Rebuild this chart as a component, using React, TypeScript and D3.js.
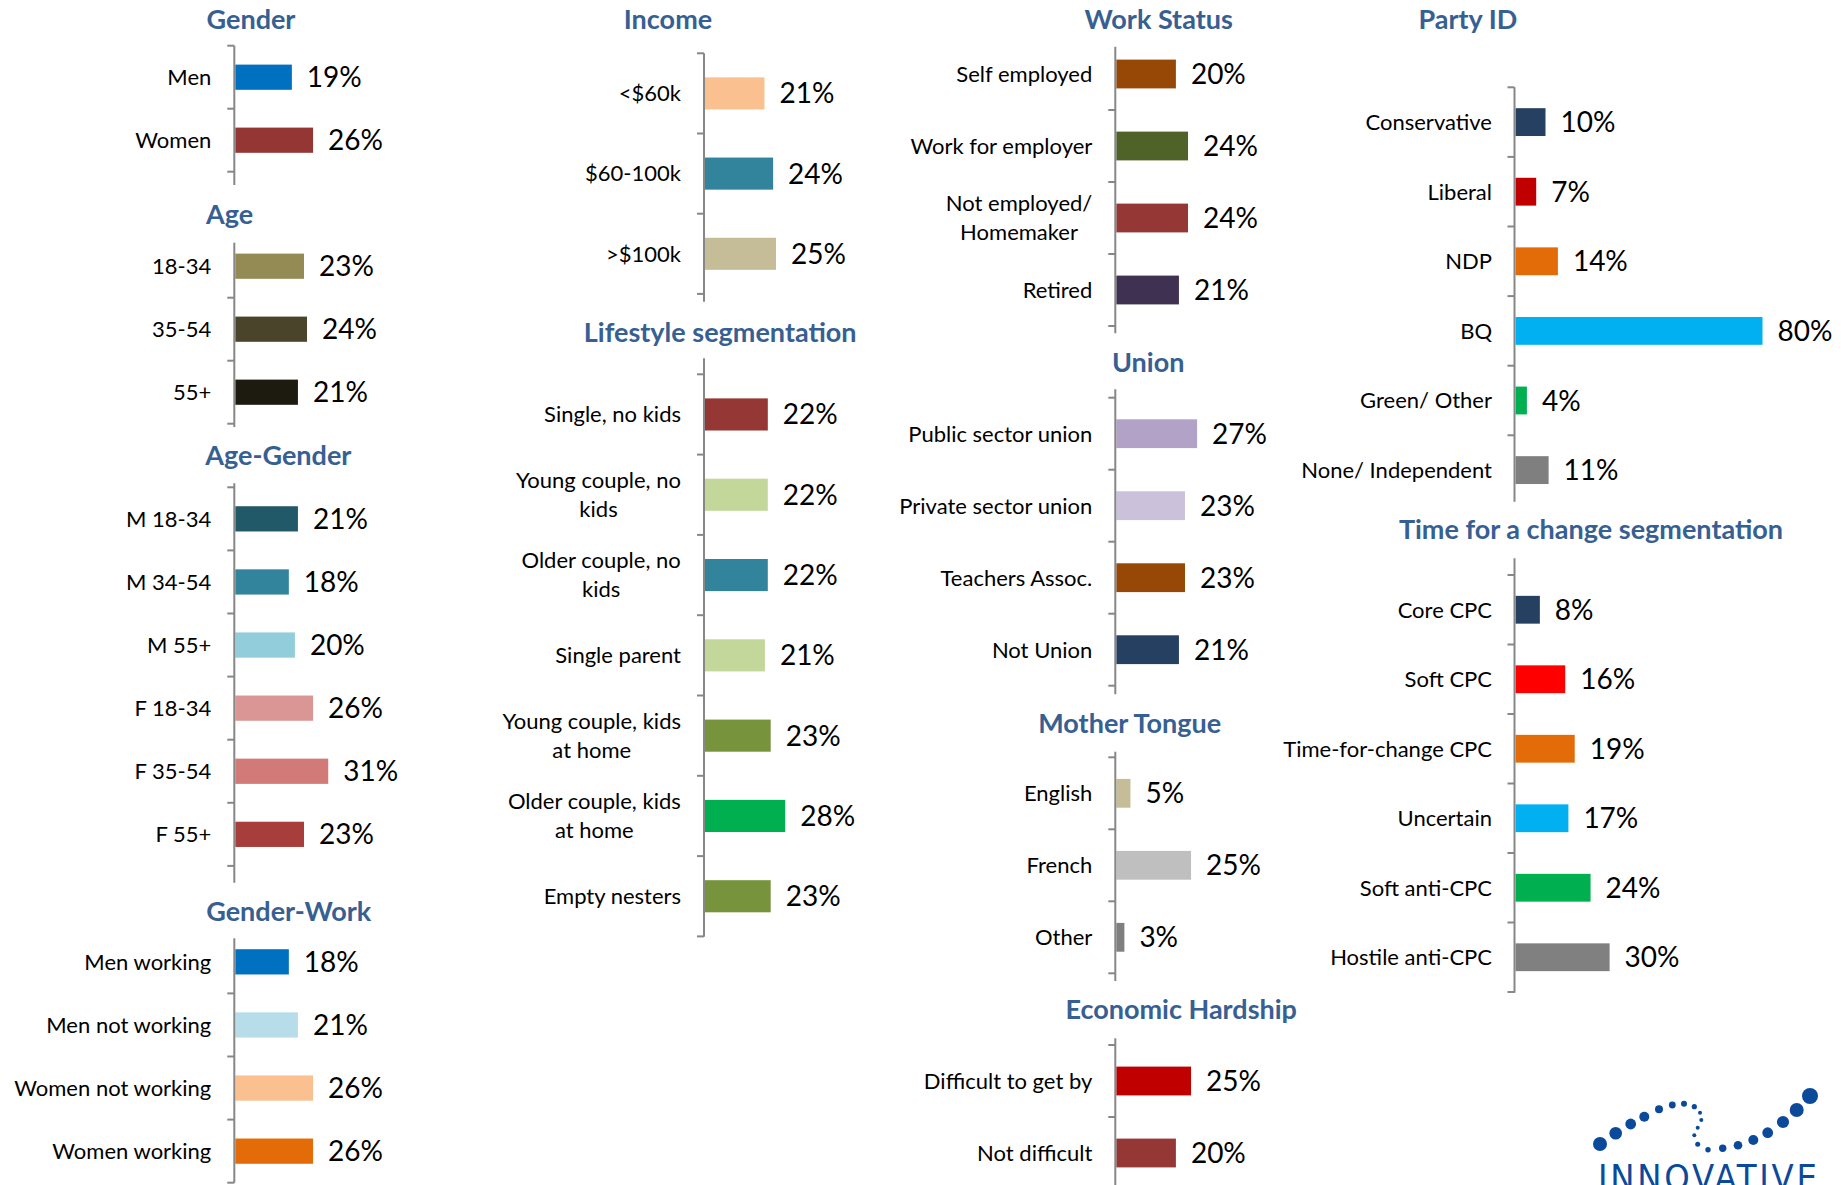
import React from "react";
import * as d3 from "d3";

// ---------- DATA ----------
const genderCats = ["Men", "Women"];
const genderVals = [19, 26];
const genderColors = ["#0070C0", "#943634"];

const ageCats = ["18-34", "35-54", "55+"];
const ageVals = [23, 24, 21];
const ageColors = ["#948A54", "#4A452A", "#1D1B10"];

const ageGenderCats = ["M 18-34", "M 34-54", "M 55+", "F 18-34", "F 35-54", "F 55+"];
const ageGenderVals = [21, 18, 20, 26, 31, 23];
const ageGenderColors = ["#215968", "#31849B", "#92CDDC", "#DA9694", "#D27A78", "#A83E3C"];

const genderWorkCats = ["Men working", "Men not working", "Women not working", "Women working"];
const genderWorkVals = [18, 21, 26, 26];
const genderWorkColors = ["#0070C0", "#B7DEE8", "#FAC090", "#E36C09"];

const incomeCats = ["<$60k", "$60-100k", ">$100k"];
const incomeVals = [21, 24, 25];
const incomeColors = ["#FAC090", "#31849B", "#C4BD97"];

const lifestyleCats = [
  "Single, no kids",
  "Young couple, no\nkids",
  "Older couple, no\nkids",
  "Single parent",
  "Young couple, kids\nat home",
  "Older couple, kids\nat home",
  "Empty nesters",
];
const lifestyleVals = [22, 22, 22, 21, 23, 28, 23];
const lifestyleColors = ["#953735", "#C4D79B", "#31849B", "#C4D79B", "#77933C", "#00B050", "#77933C"];

const workCats = ["Self employed", "Work for employer", "Not employed/\nHomemaker", "Retired"];
const workVals = [20, 24, 24, 21];
const workColors = ["#974806", "#4F6228", "#953735", "#3F3151"];

const unionCats = ["Public sector union", "Private sector union", "Teachers Assoc.", "Not Union"];
const unionVals = [27, 23, 23, 21];
const unionColors = ["#B2A2C7", "#CCC1DA", "#974806", "#254061"];

const tongueCats = ["English", "French", "Other"];
const tongueVals = [5, 25, 3];
const tongueColors = ["#C4BD97", "#BFBFBF", "#7F7F7F"];

const hardshipCats = ["Difficult to get by", "Not difficult"];
const hardshipVals = [25, 20];
const hardshipColors = ["#C00000", "#953735"];

const partyCats = ["Conservative", "Liberal", "NDP", "BQ", "Green/ Other", "None/ Independent"];
const partyVals = [10, 7, 14, 80, 4, 11];
const partyColors = ["#254061", "#C00000", "#E36C09", "#00B0F0", "#00B050", "#7F7F7F"];

const changeCats = ["Core CPC", "Soft CPC", "Time-for-change CPC", "Uncertain", "Soft anti-CPC", "Hostile anti-CPC"];
const changeVals = [8, 16, 19, 17, 24, 30];
const changeColors = ["#254061", "#FF0000", "#E36C09", "#00B0F0", "#00B050", "#808080"];

// ---------- LAYOUT ----------
const FONT = "Lato, 'Open Sans', sans-serif";
const TITLE_COLOR = "#376092";
const AXIS_COLOR = "#878787";
const CAT_SIZE = 22;
const VAL_SIZE = 28;
const TITLE_SIZE = 27;

type Layout = {
  title: string;
  titleX: number;
  titleY: number;
  axisX: number;
  top: number;
  step: number;
  lineTop: number;
  lineBottom: number;
  px: number;
  labelGap: number;
};

const panels: { cfg: Layout; cats: string[]; vals: number[]; colors: string[] }[] = [
  { cfg: { title: "Gender", titleX: 251, titleY: 28.5, axisX: 234.3, top: 45.7, step: 63, lineTop: 45.7, lineBottom: 185, px: 3.03, labelGap: 23 }, cats: genderCats, vals: genderVals, colors: genderColors },
  { cfg: { title: "Age", titleX: 229.5, titleY: 224, axisX: 234.3, top: 234.7, step: 63, lineTop: 242.7, lineBottom: 427, px: 3.03, labelGap: 23 }, cats: ageCats, vals: ageVals, colors: ageColors },
  { cfg: { title: "Age-Gender", titleX: 278.3, titleY: 465, axisX: 234.3, top: 487.3, step: 63.1, lineTop: 483.3, lineBottom: 882.7, px: 3.03, labelGap: 23 }, cats: ageGenderCats, vals: ageGenderVals, colors: ageGenderColors },
  { cfg: { title: "Gender-Work", titleX: 288.7, titleY: 920.7, axisX: 234.3, top: 930.3, step: 63.1, lineTop: 938.3, lineBottom: 1182.7, px: 3.03, labelGap: 23 }, cats: genderWorkCats, vals: genderWorkVals, colors: genderWorkColors },
  { cfg: { title: "Income", titleX: 668, titleY: 28.5, axisX: 704, top: 53.3, step: 80.2, lineTop: 53.3, lineBottom: 301.7, px: 2.88, labelGap: 23 }, cats: incomeCats, vals: incomeVals, colors: incomeColors },
  { cfg: { title: "Lifestyle segmentation", titleX: 720.2, titleY: 341.7, axisX: 704, top: 374.3, step: 80.3, lineTop: 358.3, lineBottom: 936.7, px: 2.9, labelGap: 23 }, cats: lifestyleCats, vals: lifestyleVals, colors: lifestyleColors },
  { cfg: { title: "Work Status", titleX: 1158.7, titleY: 28.5, axisX: 1115.3, top: 38, step: 72, lineTop: 46.7, lineBottom: 333.3, px: 3.03, labelGap: 23 }, cats: workCats, vals: workVals, colors: workColors },
  { cfg: { title: "Union", titleX: 1148.2, titleY: 371.7, axisX: 1115.3, top: 397.7, step: 72, lineTop: 389.3, lineBottom: 694.3, px: 3.03, labelGap: 23 }, cats: unionCats, vals: unionVals, colors: unionColors },
  { cfg: { title: "Mother Tongue", titleX: 1129.7, titleY: 732.7, axisX: 1115.3, top: 757.3, step: 72, lineTop: 751.7, lineBottom: 981, px: 3.03, labelGap: 23 }, cats: tongueCats, vals: tongueVals, colors: tongueColors },
  { cfg: { title: "Economic Hardship", titleX: 1181.2, titleY: 1019.3, axisX: 1115.3, top: 1045, step: 72, lineTop: 1038.3, lineBottom: 1185, px: 3.03, labelGap: 23 }, cats: hardshipCats, vals: hardshipVals, colors: hardshipColors },
  { cfg: { title: "Party ID", titleX: 1467.8, titleY: 29.3, axisX: 1514.5, top: 87.3, step: 69.6, lineTop: 87.3, lineBottom: 501.7, px: 3.1, labelGap: 22.5 }, cats: partyCats, vals: partyVals, colors: partyColors },
  { cfg: { title: "Time for a change segmentation", titleX: 1591, titleY: 539.3, axisX: 1514.5, top: 575, step: 69.5, lineTop: 558.3, lineBottom: 992.7, px: 3.17, labelGap: 22.5 }, cats: changeCats, vals: changeVals, colors: changeColors },
];

// decorative logo (not data)
const LOGO_DOTS: [number, number, number][] = [
  [1600, 1144, 7], [1615.7, 1133.3, 6.3], [1630.7, 1124, 5.4], [1644.3, 1116.7, 5], [1659, 1109.3, 4],
  [1672.3, 1105, 3.4], [1684, 1103.7, 3], [1694.3, 1106.7, 2.6], [1700, 1112.7, 2], [1701.3, 1120, 2],
  [1697.7, 1127.7, 2], [1694.3, 1135.3, 2], [1697.7, 1144.3, 2.5], [1708, 1149.7, 2.7], [1722.7, 1148.3, 3.7],
  [1738, 1145.3, 4.3], [1753.3, 1140, 5], [1767.7, 1132.7, 5.4], [1783, 1122, 6.1], [1796.7, 1110, 7], [1810, 1096, 8],
];

let measureCtx: CanvasRenderingContext2D | null = null;
function textWidth(t: string, size: number): number {
  if (!measureCtx) measureCtx = document.createElement("canvas").getContext("2d");
  if (!measureCtx) return t.length * size * 0.5;
  measureCtx.font = `${size}px ${FONT}`;
  return measureCtx.measureText(t).width;
}

function Panel({ cfg, cats, vals, colors }: { cfg: Layout; cats: string[]; vals: number[]; colors: string[] }) {
  const y = d3
    .scaleBand<string>()
    .domain(cats)
    .range([cfg.top, cfg.top + cats.length * cfg.step])
    .paddingInner(0.6)
    .paddingOuter(0.3);
  const x = d3.scaleLinear().domain([0, 100]).range([cfg.axisX, cfg.axisX + 100 * cfg.px]);
  const boundaries = d3.range(cats.length + 1).map((i) => y.range()[0] + i * y.step());
  const labelRight = cfg.axisX - cfg.labelGap;
  const lineH = 29;
  return (
    <g>
      <text x={cfg.titleX} y={cfg.titleY} textAnchor="middle" fontFamily={FONT} fontWeight="bold" fontSize={TITLE_SIZE} fill={TITLE_COLOR}>
        {cfg.title}
      </text>
      {cats.map((c, i) => {
        const cy = (y(c) as number) + y.bandwidth() / 2;
        const lines = c.split("\n");
        const maxW = d3.max(lines, (l) => textWidth(l, CAT_SIZE)) as number;
        const cx = lines.length > 1 ? labelRight - maxW / 2 : labelRight;
        const first = cy - ((lines.length - 1) * lineH) / 2 + 0.358 * CAT_SIZE;
        return (
          <g key={c}>
            <rect x={x(0) + 1} y={y(c)} width={Math.max(0, x(vals[i]) - x(0) - 1)} height={y.bandwidth()} fill={colors[i]} />
            <text
              x={cx}
              textAnchor={lines.length > 1 ? "middle" : "end"}
              fontFamily={FONT}
              fontSize={CAT_SIZE}
              fill="#000"
            >
              {lines.map((l, k) => (
                <tspan key={k} x={cx} y={first + k * lineH}>
                  {l}
                </tspan>
              ))}
            </text>
            <text x={x(vals[i]) + 15} y={cy + 0.358 * VAL_SIZE} fontFamily={FONT} fontSize={VAL_SIZE} fill="#000">
              {vals[i] + "%"}
            </text>
          </g>
        );
      })}
      <line x1={cfg.axisX} x2={cfg.axisX} y1={cfg.lineTop} y2={cfg.lineBottom} stroke={AXIS_COLOR} strokeWidth={2} />
      {boundaries
        .filter((b) => b >= cfg.lineTop - 1.5 && b <= cfg.lineBottom + 1.5)
        .map((b, i) => (
          <line key={i} x1={cfg.axisX - 7} x2={cfg.axisX} y1={b} y2={b} stroke={AXIS_COLOR} strokeWidth={2} />
        ))}
    </g>
  );
}

export default function App() {
  return (
    <svg
      width={1841}
      height={1185}
      viewBox="0 0 1841 1185"
      style={{ position: "absolute", left: 0, top: 0, background: "#fff" }}
    >
      <rect x={0} y={0} width={1841} height={1185} fill="#fff" />
      {panels.map((p) => (
        <Panel key={p.cfg.title} cfg={p.cfg} cats={p.cats} vals={p.vals} colors={p.colors} />
      ))}
      <g fill="#0B4A9A">
        {LOGO_DOTS.map(([cx, cy, r], i) => (
          <circle key={i} cx={cx} cy={cy} r={r} />
        ))}
        <text x={1598} y={1190} fontFamily="'Liberation Sans Narrow', 'DejaVu Sans Condensed', sans-serif" fontSize={36} textLength={219} lengthAdjust="spacing">
          INNOVATIVE
        </text>
      </g>
    </svg>
  );
}
